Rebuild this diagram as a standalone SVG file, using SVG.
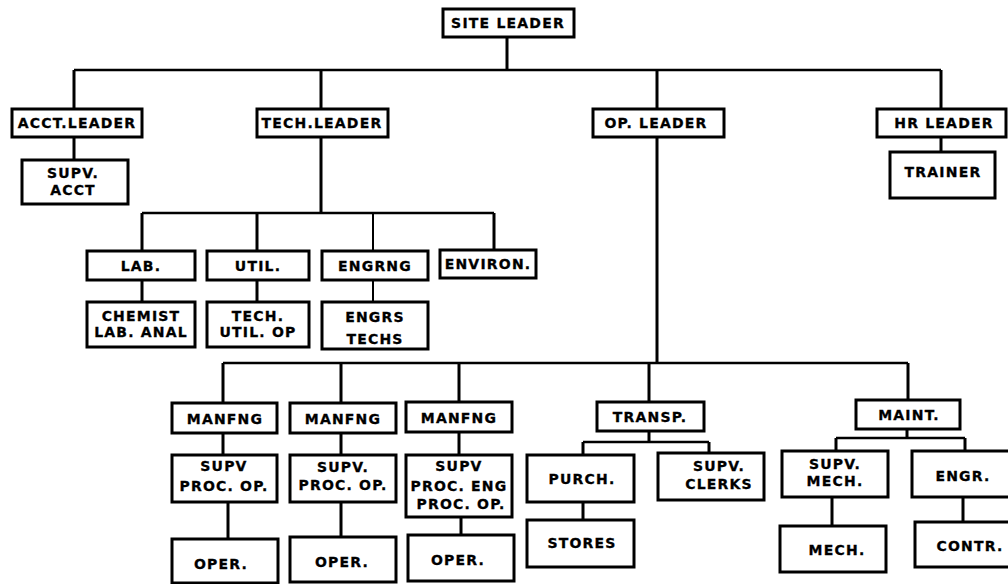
<svg xmlns="http://www.w3.org/2000/svg" width="1008" height="584" viewBox="0 0 1008 584">
<style>
.box{fill:#fff;stroke:#000;stroke-width:3}
.t{font-family:"DejaVu Sans","Liberation Sans",sans-serif;font-weight:bold;font-size:14px;letter-spacing:1.2px;fill:#000;stroke:#000;stroke-width:0.3;text-anchor:middle;dominant-baseline:central}
.v{stroke:#000;stroke-width:3;fill:none}
.h{stroke:#000;stroke-width:2.5;fill:none}
.thin{stroke:#000;stroke-width:2;fill:none}
</style>
<rect width="1008" height="584" fill="#fff"/>
<g id="connectors">
<path class="v" d="M507 37V70M74 70V109M321 70V109M657 70V109M941 70V109"/>
<path class="h" d="M74 70H941"/>
<path class="v" d="M74 137V160M941 137V152"/>
<path class="v" d="M321 137V213M142 213V251M257 213V251M494 213V250"/>
<path class="h" d="M142 213H494"/>
<path class="thin" d="M373 213V251M373 280V302"/>
<path class="v" d="M142 280V302M257 280V302"/>
<path class="v" d="M657 137V363M223 363V403M341 363V403M459 363V403M649 363V402M908 363V400"/>
<path class="h" d="M223 363H908"/>
<path class="v" d="M223 433V455M341 433V455M459 433V455"/>
<path class="v" d="M228 502V539M341 502V537M461 517V535"/>
<path class="v" d="M649 431V442M583 442V455M709 442V453M583 502V520"/>
<path class="h" d="M583 442H709"/>
<path class="v" d="M907 429V438M836 438V451M965 438V452M832 497V526M963 497V522"/>
<path class="h" d="M836 438H965"/>
</g>
<g id="site-leader"><rect class="box" x="443" y="9" width="131" height="28"/><text class="t" x="508" y="23">SITE LEADER</text></g>
<g id="acct-leader"><rect class="box" x="12" y="109" width="130" height="28"/><text class="t" x="77" y="123">ACCT.LEADER</text></g>
<g id="tech-leader"><rect class="box" x="257" y="109" width="131" height="28"/><text class="t" x="322" y="123">TECH.LEADER</text></g>
<g id="op-leader"><rect class="box" x="593" y="109" width="131" height="28"/><text class="t" x="656" y="123">OP. LEADER</text></g>
<g id="hr-leader"><rect class="box" x="877" y="109" width="129" height="28"/><text class="t" x="944" y="123">HR LEADER</text></g>
<g id="supv-acct"><rect class="box" x="22" y="160" width="106" height="44"/><text class="t" x="73" y="173">SUPV.</text><text class="t" x="73" y="190">ACCT</text></g>
<g id="trainer"><rect class="box" x="890" y="152" width="105" height="46"/><text class="t" x="943" y="172">TRAINER</text></g>
<g id="lab"><rect class="box" x="87" y="251" width="108" height="29"/><text class="t" x="141" y="266">LAB.</text></g>
<g id="util"><rect class="box" x="207" y="251" width="102" height="29"/><text class="t" x="258" y="266">UTIL.</text></g>
<g id="engrng"><rect class="box" x="322" y="251" width="106" height="29"/><text class="t" x="375" y="266">ENGRNG</text></g>
<g id="environ"><rect class="box" x="440" y="250" width="96" height="28"/><text class="t" x="488" y="264">ENVIRON.</text></g>
<g id="chemist"><rect class="box" x="87" y="302" width="108" height="45"/><text class="t" x="141" y="316">CHEMIST</text><text class="t" x="141" y="332">LAB. ANAL</text></g>
<g id="tech-util-op"><rect class="box" x="207" y="302" width="102" height="45"/><text class="t" x="258" y="316">TECH.</text><text class="t" x="258" y="332">UTIL. OP</text></g>
<g id="engrs-techs"><rect class="box" x="322" y="302" width="106" height="47"/><text class="t" x="375" y="317">ENGRS</text><text class="t" x="375" y="339">TECHS</text></g>
<g id="manfng1"><rect class="box" x="172" y="403" width="105" height="30"/><text class="t" x="225" y="419">MANFNG</text></g>
<g id="manfng2"><rect class="box" x="290" y="403" width="106" height="30"/><text class="t" x="343" y="419">MANFNG</text></g>
<g id="manfng3"><rect class="box" x="406" y="402" width="106" height="30"/><text class="t" x="459" y="418">MANFNG</text></g>
<g id="supv-proc1"><rect class="box" x="172" y="455" width="105" height="47"/><text class="t" x="224" y="466">SUPV</text><text class="t" x="224" y="486">PROC. OP.</text></g>
<g id="supv-proc2"><rect class="box" x="290" y="455" width="106" height="47"/><text class="t" x="343" y="467">SUPV.</text><text class="t" x="343" y="485">PROC. OP.</text></g>
<g id="supv-proc3"><rect class="box" x="406" y="455" width="106" height="62"/><text class="t" x="459" y="466">SUPV</text><text class="t" x="459" y="486">PROC. ENG</text><text class="t" x="461" y="504">PROC. OP.</text></g>
<g id="oper1"><rect class="box" x="172" y="539" width="106" height="44"/><text class="t" x="221" y="564">OPER.</text></g>
<g id="oper2"><rect class="box" x="290" y="537" width="106" height="45"/><text class="t" x="342" y="562">OPER.</text></g>
<g id="oper3"><rect class="box" x="408" y="535" width="106" height="46"/><text class="t" x="458" y="560">OPER.</text></g>
<g id="transp"><rect class="box" x="597" y="402" width="107" height="29"/><text class="t" x="650" y="417">TRANSP.</text></g>
<g id="purch"><rect class="box" x="527" y="455" width="107" height="47"/><text class="t" x="582" y="479">PURCH.</text></g>
<g id="supv-clerks"><rect class="box" x="658" y="453" width="106" height="47"/><text class="t" x="719" y="466">SUPV.</text><text class="t" x="719" y="484">CLERKS</text></g>
<g id="stores"><rect class="box" x="527" y="520" width="107" height="47"/><text class="t" x="582" y="543">STORES</text></g>
<g id="maint"><rect class="box" x="856" y="400" width="104" height="29"/><text class="t" x="909" y="415">MAINT.</text></g>
<g id="supv-mech"><rect class="box" x="782" y="451" width="106" height="46"/><text class="t" x="835" y="464">SUPV.</text><text class="t" x="835" y="481">MECH.</text></g>
<g id="engr"><rect class="box" x="912" y="451" width="110" height="46"/><text class="t" x="963" y="476">ENGR.</text></g>
<g id="mech"><rect class="box" x="780" y="526" width="106" height="46"/><text class="t" x="837" y="550">MECH.</text></g>
<g id="contr"><rect class="box" x="915" y="522" width="110" height="45"/><text class="t" x="970" y="546">CONTR.</text></g>
</svg>
